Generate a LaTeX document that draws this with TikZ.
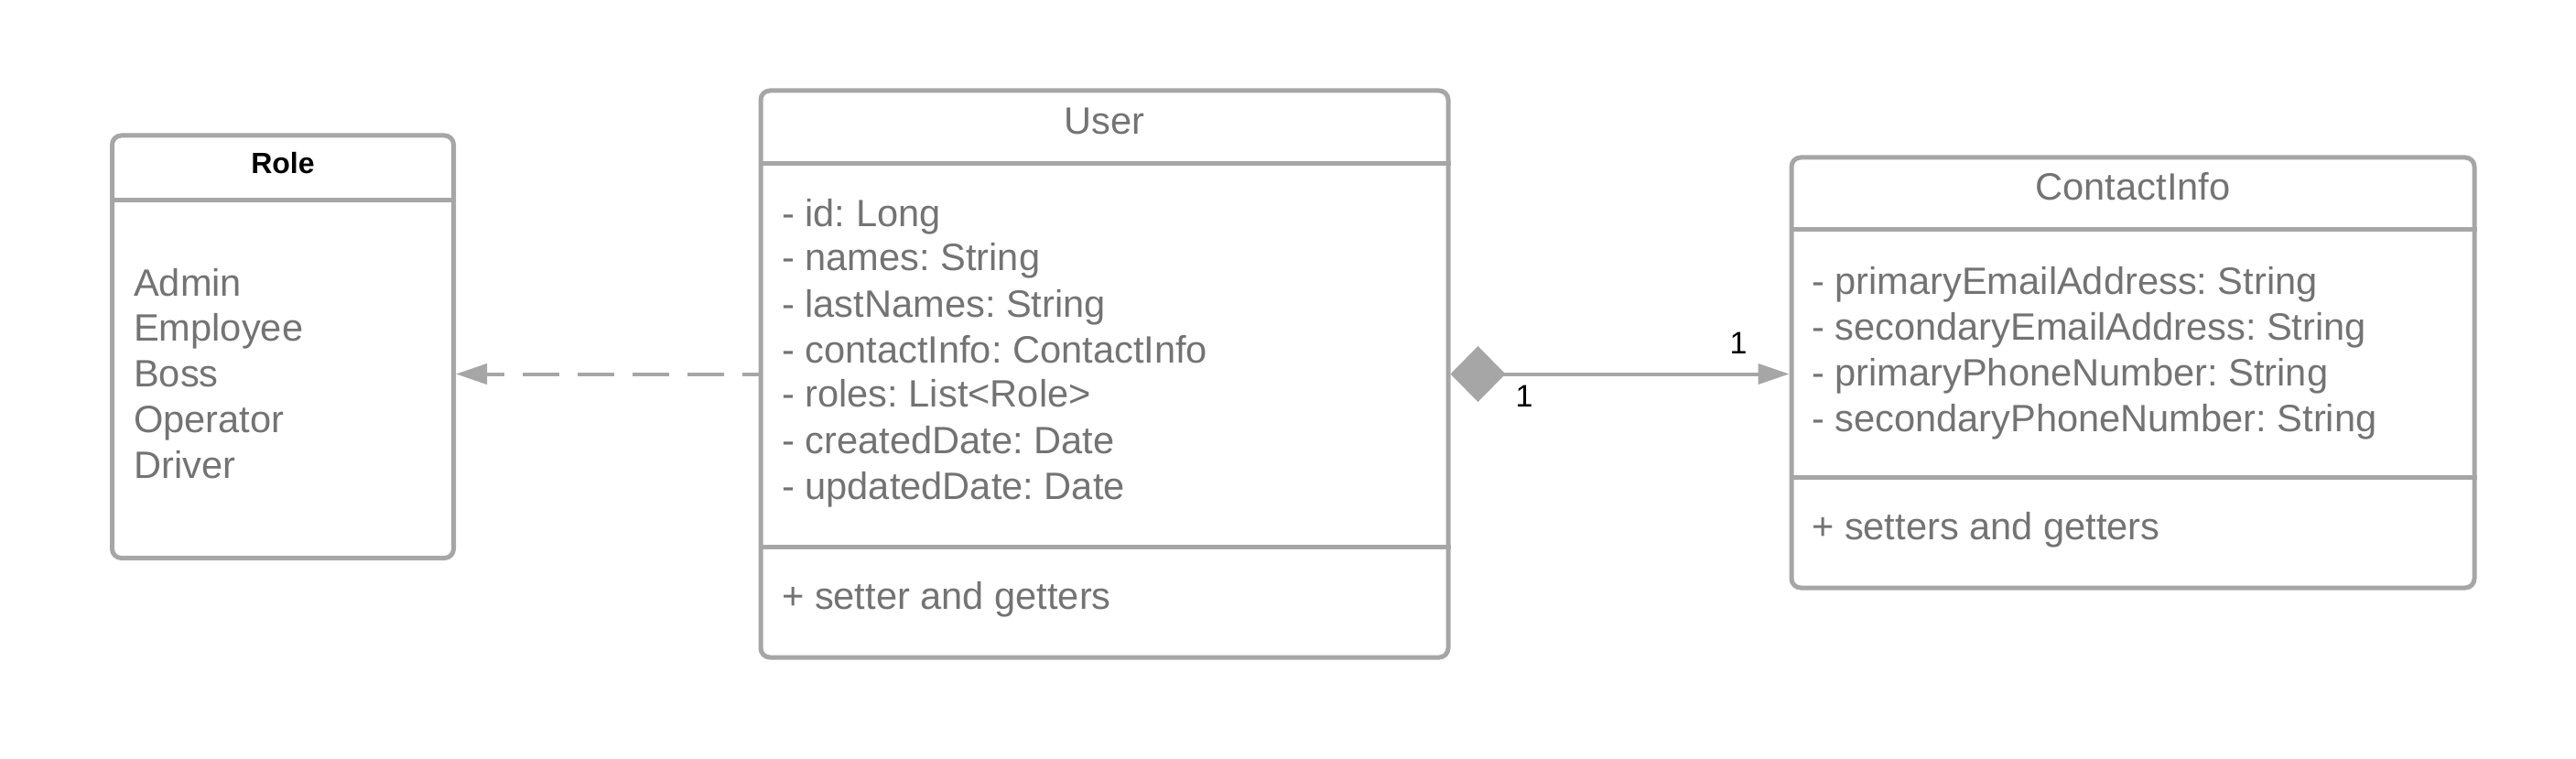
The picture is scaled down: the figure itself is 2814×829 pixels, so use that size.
\documentclass[tikz,border=0pt]{standalone}
\usepackage{fontspec}
\setmainfont{Liberation Sans}
\usetikzlibrary{arrows.meta}
\definecolor{ln}{RGB}{166,166,166}
\definecolor{txt}{RGB}{115,115,115}
\frenchspacing
\tikzset{
  classbox/.style={draw=ln, line width=5pt, rounded corners=10pt, inner sep=0pt, fill=none},
  divider/.style={draw=ln, line width=5pt},
  item/.style={anchor=base west, inner sep=0pt, text=txt, font=\fontsize{41.6}{50}\selectfont},
  ctitle/.style={anchor=base, inner sep=0pt, text=txt, font=\fontsize{41.6}{50}\selectfont},
  btitle/.style={anchor=base, inner sep=0pt, text=black, font=\fontsize{32}{40}\selectfont\bfseries},
  mult/.style={inner sep=0pt, text=black, font=\fontsize{34}{40}\selectfont},
  conn/.style={draw=ln, line width=4pt},
}
\begin{document}
\begin{tikzpicture}[x=1pt, y=-1pt]
\useasboundingbox (0,0) rectangle (2814,829);

% Role
\node[classbox, minimum width=373pt, minimum height=461.5pt] (role) at (309,378.75) {};
\draw[divider] (role.west |- 0,218.5) coordinate (rd1a) -- (role.east |- 0,218.5) coordinate (rd1b);
\node[btitle] (roletitle) at (309,190) {Role};
\node[item] (r1) at (146,323) {Admin};
\node[item] (r2) at (146,372.7) {Employee};
\node[item] (r3) at (146,422.7) {Boss};
\node[item] (r4) at (146,472.7) {Operator};
\node[item] (r5) at (146,522.7) {Driver};

% User
\node[classbox, minimum width=751pt, minimum height=619pt] (user) at (1206.5,408.5) {};
\draw[divider] (user.west |- 0,179) coordinate (ud1a) -- (user.east |- 0,179) coordinate (ud1b);
\draw[divider] (user.west |- 0,597) coordinate (ud2a) -- (user.east |- 0,597) coordinate (ud2b);
\node[ctitle] (usertitle) at (1206.5,146.5) {User};
\node[item] (u1) at (854,247.3) {- id: Long};
\node[item] (u2) at (854,295.6) {- names: String};
\node[item] (u3) at (854,346.0) {- lastNames: String};
\node[item] (u4) at (854,396.5) {- contactInfo: ContactInfo};
\node[item] (u5) at (854,444.8) {- roles: List<Role>};
\node[item] (u6) at (854,495.3) {- createdDate: Date};
\node[item] (u7) at (854,545.7) {- updatedDate: Date};
\node[item] (u8) at (854,665.4) {+ setter and getters};

% ContactInfo
\node[classbox, minimum width=746pt, minimum height=470pt] (ci) at (2330,407) {};
\draw[divider] (ci.west |- 0,251) coordinate (cd1a) -- (ci.east |- 0,251) coordinate (cd1b);
\draw[divider] (ci.west |- 0,521) coordinate (cd2a) -- (ci.east |- 0,521) coordinate (cd2b);
\node[ctitle] (cititle) at (2330,219) {ContactInfo};
\node[item] (c1) at (1979,321) {- primaryEmailAddress: String};
\node[item] (c2) at (1979,371.7) {- secondaryEmailAddress: String};
\node[item] (c3) at (1979,421.7) {- primaryPhoneNumber: String};
\node[item] (c4) at (1979,471.7) {- secondaryPhoneNumber: String};
\node[item] (c5) at (1979,589) {+ setters and getters};

% Dependency (dashed)
\draw[conn, dash pattern=on 40pt off 20pt, dash phase=20pt, {Triangle[length=34pt,width=22pt]}-]
  (role.east |- user.west) -- (user.west);

% Composition
\draw[conn, {Diamond[length=60pt,width=61pt]}-{Triangle[length=34pt,width=22pt]}]
  (user.east) -- (ci.west |- user.east);
\node[mult] (m1) at (1899,375) {1};
\node[mult] (m2) at (1665,433) {1};
\end{tikzpicture}
\end{document}
